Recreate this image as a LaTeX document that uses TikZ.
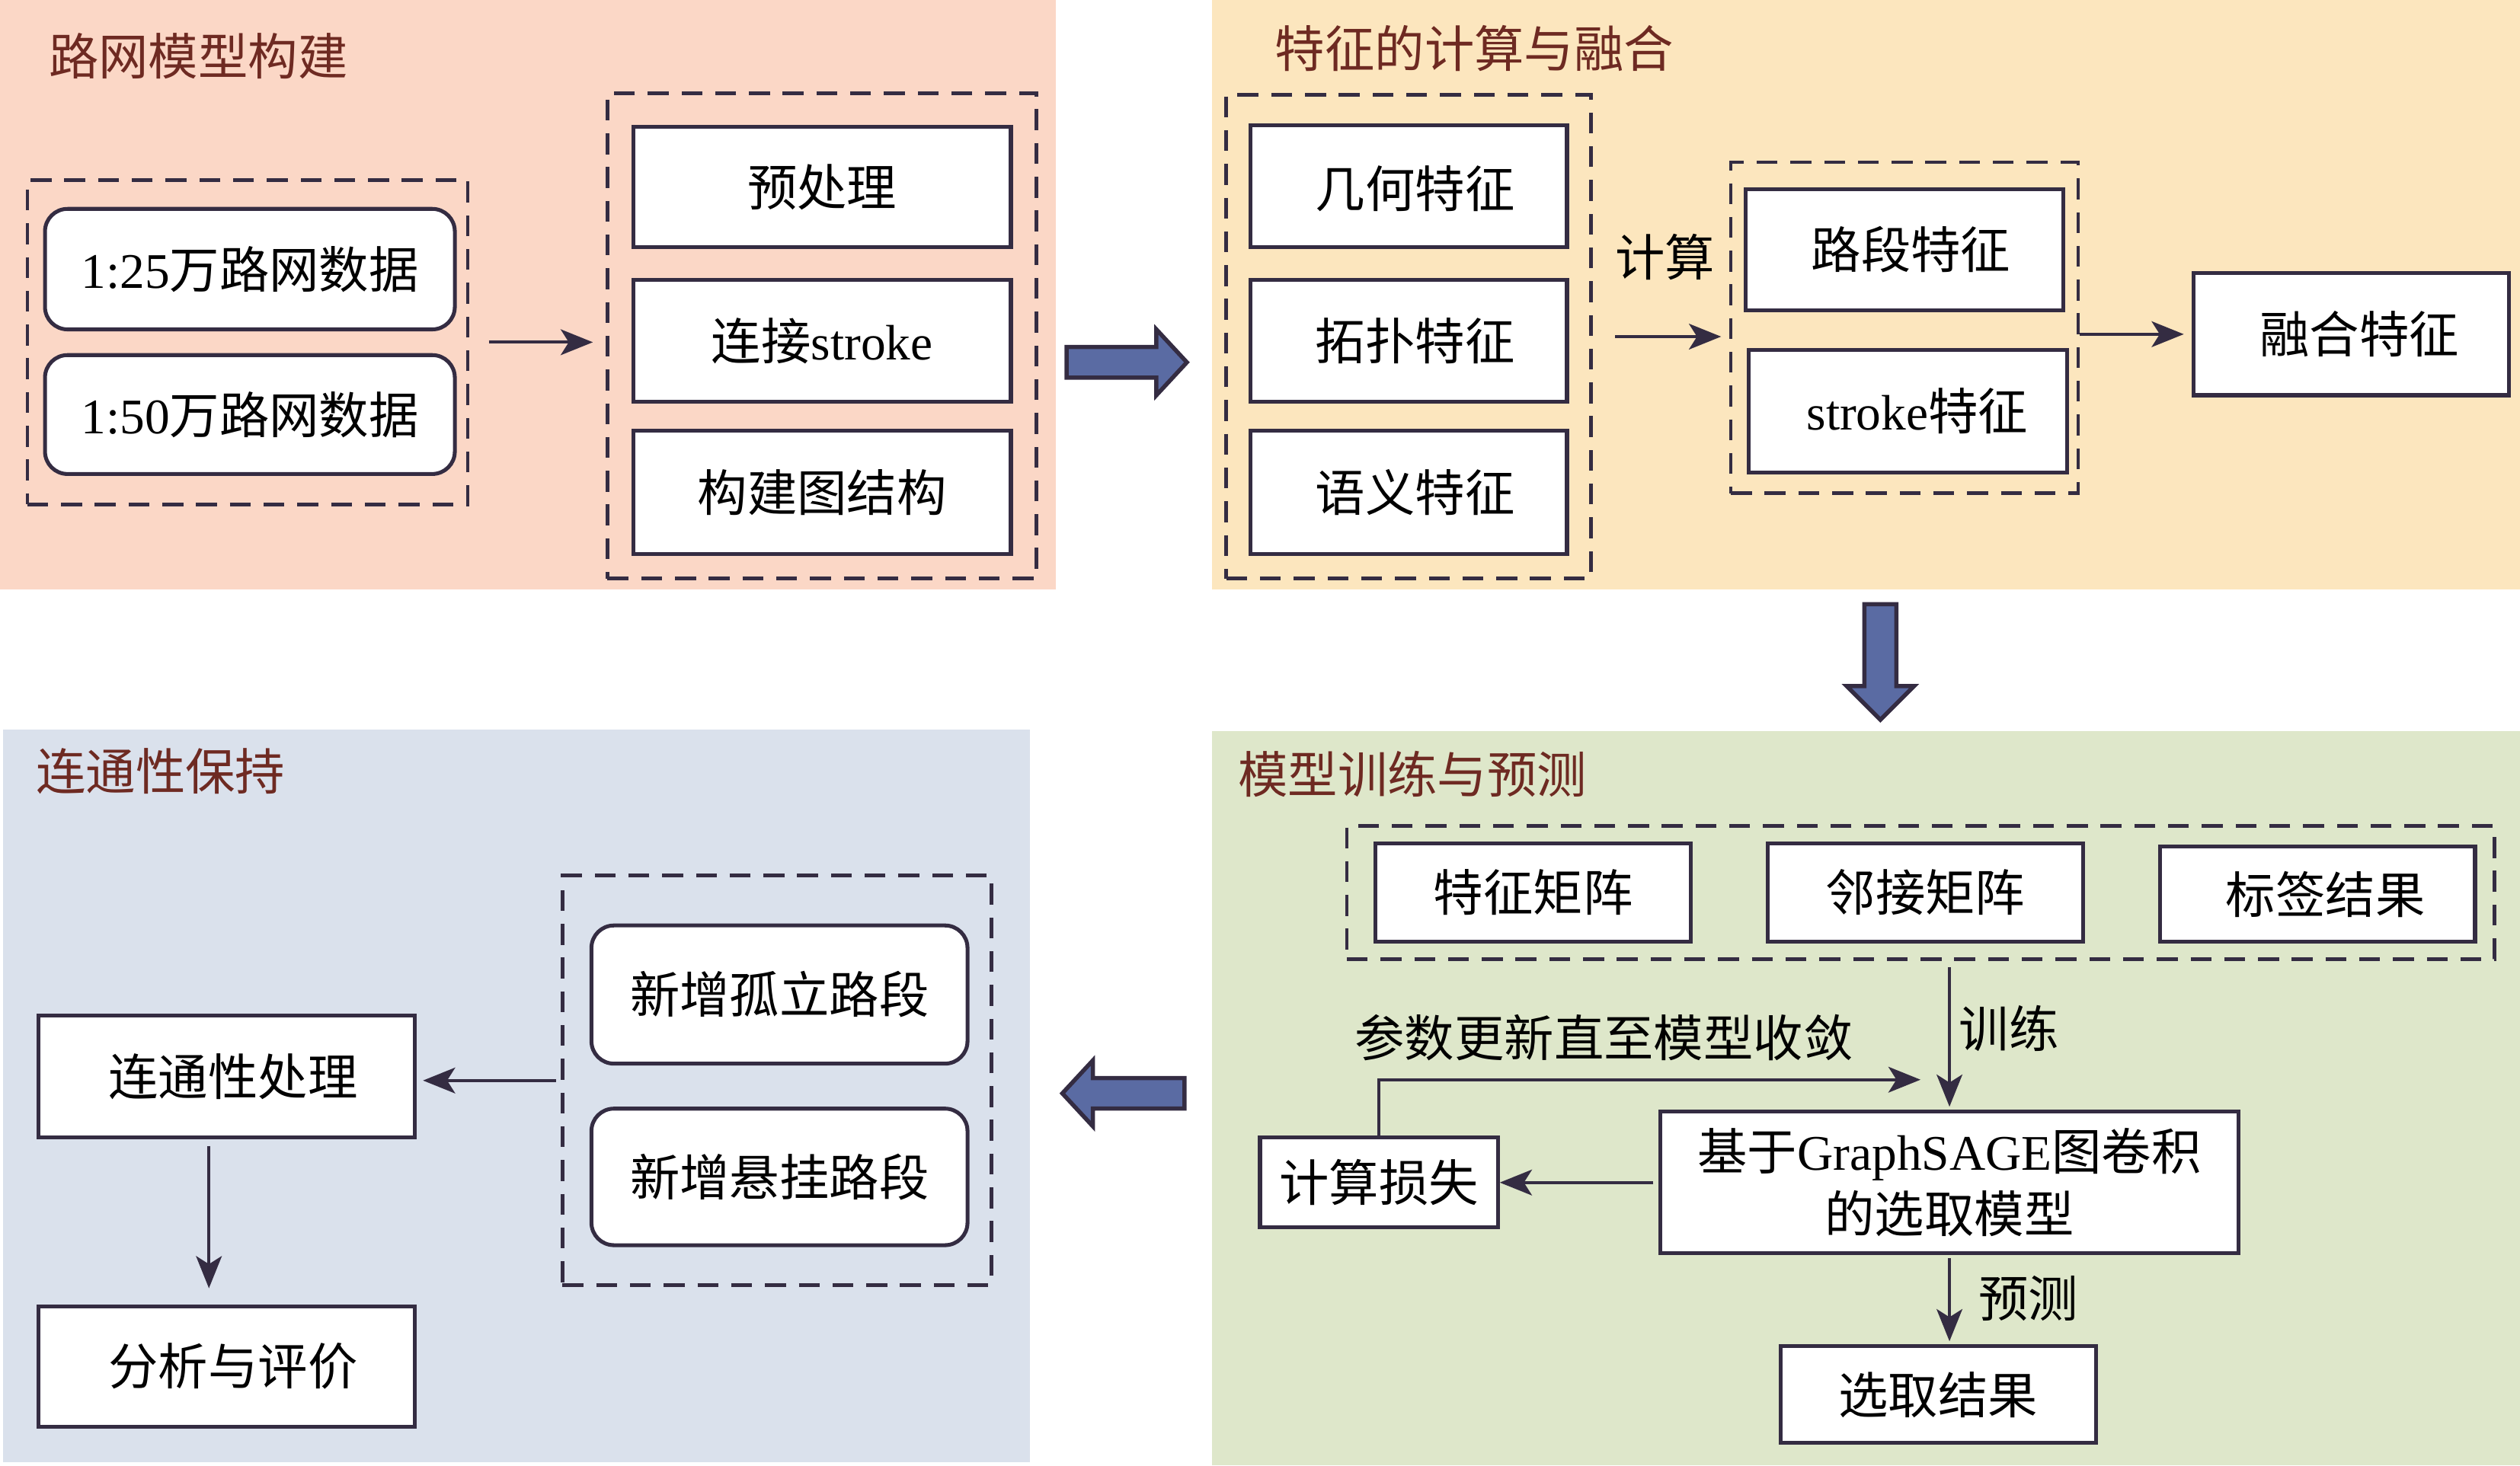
\documentclass[tikz,border=0pt]{standalone}
\usepackage{fontspec}
\setmainfont{Liberation Serif}
\newfontfamily\cjk{Noto Sans CJK SC}
\usetikzlibrary{arrows.meta}
\definecolor{pinkbg}{HTML}{FBD7C6}
\definecolor{yellowbg}{HTML}{FCE6BE}
\definecolor{bluebg}{HTML}{DAE1EC}
\definecolor{greenbg}{HTML}{DEE7CA}
\definecolor{titlec}{HTML}{6E2A22}
\definecolor{linec}{HTML}{342C42}
\definecolor{arrowfill}{HTML}{5A6BA3}
\begin{document}
\begin{tikzpicture}[x=0.5pt,y=-0.5pt,
 txt/.style={font=\fontsize{15.5pt}{19.5pt}\selectfont\cjk, text=black, inner sep=0pt},
 box/.style={txt, draw=linec, line width=1.2pt, fill=white},
 rbox/.style={box, rounded corners=7pt},
 group/.style={draw=linec, line width=1.1pt, dash pattern=on 6.5pt off 4pt, inner sep=0pt},
 ttl/.style={font=\fontsize{15.5pt}{19pt}\selectfont\cjk, text=titlec, anchor=west, inner sep=0pt},
 arr/.style={draw=linec, line width=1pt, -{Stealth[length=10pt,width=8pt,inset=2.5pt]}},
 blk/.style={fill=arrowfill, draw=linec, line width=1.3pt, line join=miter}
]
\useasboundingbox (0,0) rectangle (1568,912);
\fill[white] (0,0) rectangle (1568,912);
% panels
\fill[pinkbg] (0,0) rectangle (657,367);
\fill[yellowbg] (754,0) rectangle (1568,367);
\fill[bluebg] (2,454) rectangle (641,910);
\fill[greenbg] (754,455) rectangle (1568,912);

% ---- top-left
\node[ttl] (t1) at (30,35) {路网模型构建};
\node[group, minimum width=137pt, minimum height=101pt] (dl) at (154,213) {};
\node[rbox, minimum width=127.5pt, minimum height=37.5pt] (r1) at (155.5,167.5) {{\rmfamily 1:25}万路网数据};
\node[rbox, minimum width=127.5pt, minimum height=37pt] (r2) at (155.5,258) {{\rmfamily 1:50}万路网数据};
\node[group, minimum width=133.5pt, minimum height=151pt] (dr) at (511.5,209) {};
\node[box, minimum width=117.5pt, minimum height=37.5pt] (b1) at (511.5,116.5) {预处理};
\node[box, minimum width=117.5pt, minimum height=38pt] (b2) at (511.5,212) {连接{\rmfamily stroke}};
\node[box, minimum width=117.5pt, minimum height=38.5pt] (b3) at (511.5,306.5) {构建图结构};
\draw[arr, shorten <=6pt, shorten >=4pt] (dl.east) -- (dr.west |- dl.east);

% ---- top-right
\node[ttl] (t2) at (793,30) {特征的计算与融合};
\node[group, minimum width=113.5pt, minimum height=150.5pt] (g1) at (876.5,209.5) {};
\node[box, minimum width=98.5pt, minimum height=38pt, text depth=0pt] (f1) at (876.5,116) {\hspace*{4pt}几何特征};
\node[box, minimum width=98.5pt, minimum height=38pt] (f2) at (876.5,212) {\hspace*{4pt}拓扑特征};
\node[box, minimum width=98.5pt, minimum height=38.5pt] (f3) at (876.5,306.5) {\hspace*{4pt}语义特征};
\node[txt] (calc) at (1036,160) {计算};
\node[group, minimum width=108pt, minimum height=103pt] (g2) at (1185,204) {};
\node[box, minimum width=99pt, minimum height=37.5pt] (s1) at (1185,155.5) {\hspace*{4pt}路段特征};
\node[box, minimum width=99pt, minimum height=38pt] (s2) at (1187,256) {\hspace*{6pt}{\rmfamily stroke}特征};
\node[box, minimum width=98pt, minimum height=38pt] (fu) at (1463,208) {\hspace*{5pt}融合特征};
\draw[arr, shorten <=7pt, shorten >=2.5pt] (g1.east) -- (g2.west |- g1.east);
\draw[arr, shorten >=2.5pt] (fu.west -| g2.east) -- (fu.west);

% block arrows
\draw[blk] (663.6,216) -- (719.5,216) -- (719.5,205) -- (738.5,225.5) -- (719.5,246) -- (719.5,235) -- (663.6,235) -- cycle;
\draw[blk] (1160,376) -- (1180,376) -- (1180,427) -- (1191,427) -- (1170,448) -- (1149,427) -- (1160,427) -- cycle;
\draw[blk] (737,671) -- (680,671) -- (680,660) -- (661,680.5) -- (680,701) -- (680,690) -- (737,690) -- cycle;

% ---- bottom-right
\node[ttl] (t3) at (770,482) {模型训练与预测};
\node[group, minimum width=357pt, minimum height=41.5pt] (gm) at (1195,555.5) {};
\node[box, minimum width=98pt, minimum height=30.5pt] (m1) at (954,555.5) {特征矩阵};
\node[box, minimum width=98pt, minimum height=30.5pt] (m2) at (1198,555.5) {邻接矩阵};
\node[box, minimum width=98pt, minimum height=29.5pt] (m3) at (1442,556.5) {\hspace*{5pt}标签结果};
\node[box, minimum width=180pt, minimum height=44pt, align=center] (gnn) at (1213,736) {基于{\rmfamily GraphSAGE}图卷积\\的选取模型};
\node[box, minimum width=74pt, minimum height=28pt] (loss) at (858,736) {计算损失};
\node[box, minimum width=98pt, minimum height=30pt] (res) at (1206,868) {选取结果};
\node[txt] (lt) at (1250,640) {训练};
\node[txt] (lp) at (1262,808) {预测};
\node[txt] (lu) at (998,646) {参数更新直至模型收敛};
\coordinate (fb) at (1195,672);
\draw[arr, shorten <=2pt, shorten >=1pt] (gnn.north |- gm.south) -- (gnn.north);
\draw[arr, shorten <=1.5pt] (gnn.west) -- (loss.east);
\draw[arr] (loss.north) |- (fb);
\draw[arr, shorten <=1pt, shorten >=1pt] (gnn.south) -- (gnn.south |- res.north);

% ---- bottom-left
\node[ttl] (t4) at (22,480) {连通性保持};
\node[group, minimum width=133.5pt, minimum height=127.5pt] (dg) at (483.5,672.5) {};
\node[rbox, minimum width=117pt, minimum height=43pt] (n1) at (485,619) {新增孤立路段};
\node[rbox, minimum width=117pt, minimum height=42.5pt] (n2) at (485,732.5) {新增悬挂路段};
\node[box, minimum width=117pt, minimum height=38pt] (p) at (141,670) {\hspace*{4pt}连通性处理};
\node[box, minimum width=117pt, minimum height=37.5pt] (an) at (141,850.5) {\hspace*{4pt}分析与评价};
\draw[arr, shorten <=1.5pt, shorten >=2pt] (dg.west) -- (p.east |- dg.west);
\draw[arr, shorten <=2pt, shorten >=5pt] ([xshift=-5.5pt]p.south) -- ([xshift=-5.5pt]an.north);
\end{tikzpicture}
\end{document}
